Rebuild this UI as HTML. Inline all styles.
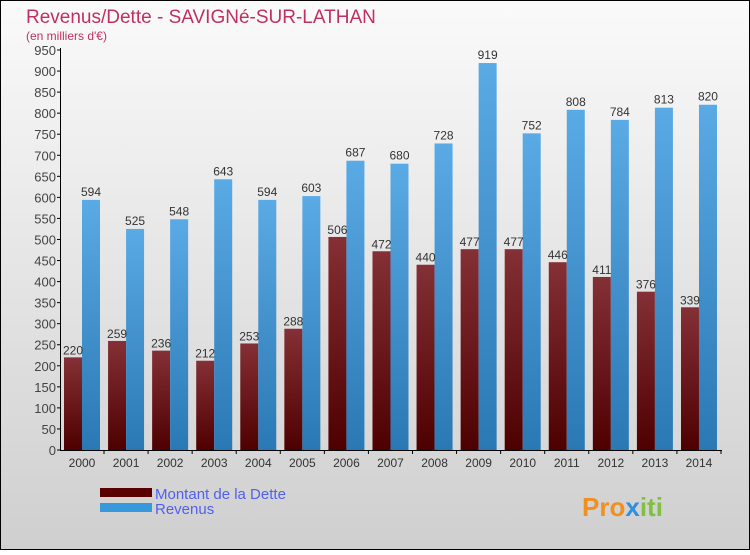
<!DOCTYPE html>
<html><head><meta charset="utf-8"><style>
html,body{margin:0;padding:0}
body{width:750px;height:550px;overflow:hidden;font-family:"Liberation Sans",sans-serif}
</style></head><body>
<svg width="750" height="550" xmlns="http://www.w3.org/2000/svg">
<defs>
<linearGradient id="bg" x1="0" y1="0" x2="0" y2="1"><stop offset="0" stop-color="#fafafa"/><stop offset="1" stop-color="#cfcfcf"/></linearGradient>
<linearGradient id="gd" x1="0" y1="0" x2="0" y2="1"><stop offset="0" stop-color="#843036"/><stop offset="1" stop-color="#4e0000"/></linearGradient>
<linearGradient id="gr" x1="0" y1="0" x2="0" y2="1"><stop offset="0" stop-color="#5aaae6"/><stop offset="1" stop-color="#2a78b4"/></linearGradient>
</defs>
<rect x="0.5" y="0.5" width="749" height="549" fill="url(#bg)" stroke="#000"/>
<text x="26" y="23" font-size="19" fill="#c03060">Revenus/Dette - SAVIGNé-SUR-LATHAN</text>
<text x="26" y="40" font-size="12" fill="#c03060">(en milliers d'€)</text>
<g id="axes"></g>
<g id="bars"></g>
<rect x="100" y="488" width="52" height="9" fill="#5a0000"/>
<rect x="100" y="503" width="52" height="9" fill="#3898dc"/>
<text x="155" y="499" font-size="15" fill="#5060f0">Montant de la Dette</text>
<text x="155" y="514" font-size="15" fill="#5060f0">Revenus</text>
<text x="582" y="516" font-size="26" font-weight="bold" fill="#f09020">Pro<tspan fill="#3090e0">x</tspan><tspan fill="#80c040">iti</tspan></text>
</svg>
<script>
const years=["2000","2001","2002","2003","2004","2005","2006","2007","2008","2009","2010","2011","2012","2013","2014"];
const dette=[220,259,236,212,253,288,506,472,440,477,477,446,411,376,339];
const revenus=[594,525,548,643,594,603,687,680,728,919,752,808,784,813,820];
const ticks=[0,50,100,150,200,250,300,350,400,450,500,550,600,650,700,750,800,850,900,950];
const NS="http://www.w3.org/2000/svg";
const y=v=>450-v*400/950;
const xc=i=>82+i*44.07;
function mk(t,a,p,txt){const e=document.createElementNS(NS,t);for(const k in a)e.setAttribute(k,a[k]);if(txt!==undefined)e.textContent=txt;p.appendChild(e);return e;}
const ax=document.getElementById('axes'),bg=document.getElementById('bars');
ticks.forEach(t=>{
 const l=mk('line',{x1:57,x2:61,y1:y(t),y2:y(t),stroke:'#000'},ax);
 
 
 const s=mk('text',{x:56,y:y(t)+5,'font-size':13,fill:'#444','text-anchor':'end'},ax,t);
 
 
});
years.forEach((yr,i)=>{
 const d=mk('rect',{x:xc(i)-18,y:y(dette[i]),width:18,height:450-y(dette[i]),fill:'url(#gd)'},bg);
 
 
 const r=mk('rect',{x:xc(i),y:y(revenus[i]),width:18,height:450-y(revenus[i]),fill:'url(#gr)'},bg);
 
 
 const a=mk('text',{x:xc(i)-9,y:y(dette[i])-3,'font-size':12,fill:'#333','text-anchor':'middle'},bg,dette[i]);
 
 
 const b=mk('text',{x:xc(i)+9,y:y(revenus[i])-4,'font-size':12,fill:'#333','text-anchor':'middle'},bg,revenus[i]);
 
 
 const tk=mk('line',{x1:xc(i)+22,x2:xc(i)+22,y1:450,y2:454,stroke:'#000'},ax);
 
 
 const xl=mk('text',{x:xc(i),y:467,'font-size':12,fill:'#333','text-anchor':'middle'},ax,yr);
 
 
});
const ya=mk('line',{x1:60.5,x2:60.5,y1:48,y2:450,stroke:'#000'},ax);


const xa=mk('line',{x1:60,x2:722,y1:450.5,y2:450.5,stroke:'#000'},ax);


</script>
</body></html>
